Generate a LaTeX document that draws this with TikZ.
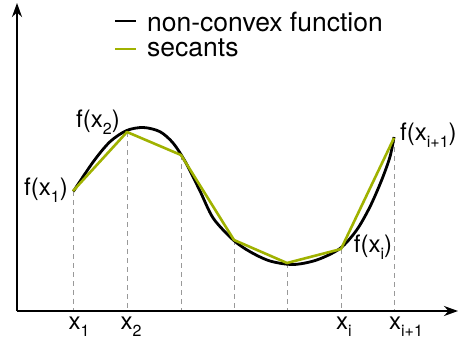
\documentclass[tikz,border=0pt]{standalone}
\usepackage{fontspec}
\setmainfont{TeX Gyre Heros}
\usetikzlibrary{arrows.meta}
\definecolor{secgreen}{RGB}{160,178,0}
\newcommand{\sbx}[1]{\raisebox{-0.28em}{\fontsize{16}{16}\selectfont #1}}
\tikzset{
  axis/.style={line width=2.4pt, -{Stealth[length=14pt,width=10pt]}},
  guide/.style={gray!80, line width=0.9pt, dash pattern=on 5pt off 4pt},
  curve/.style={black, line width=2.8pt},
  secant/.style={secgreen, line width=2.6pt, line join=round},
  lab/.style={font=\fontsize{24}{24}\selectfont, inner sep=0pt},
  leg/.style={font=\fontsize{26.5}{26.5}\selectfont, inner sep=0pt, anchor=west},
}
\begin{document}
\begin{tikzpicture}[x=1pt,y=-1pt]
\useasboundingbox (0,0) rectangle (458,345);
% points
\coordinate (p1) at (73,191);
\coordinate (p2) at (127,132);
\coordinate (p3) at (181,155);
\coordinate (p4) at (234,240);
\coordinate (p5) at (287,263);
\coordinate (p6) at (341,249);
\coordinate (p7) at (394,138);
\coordinate (o) at (17,311);
\coordinate (ytip) at (17,3);
\coordinate (xtip) at (458,311);
% guides
\foreach \i in {1,...,7} {
  \draw[guide] (p\i) -- (p\i |- o);
}
% axes
\draw[axis] (o) -- (ytip);
\draw[axis] (o) -- (xtip);
% curve
\draw[curve] plot[smooth, tension=0.5] coordinates {
  (73.3,191.5) (93.3,161.7) (110,141.7) (126.7,130.5) (143.3,127.5)
  (160,131.7) (173.3,143.3) (186,163) (200,191) (213.3,218.3)
  (233.3,240) (250,251.7) (270,261) (293.3,264.5) (316.7,260)
  (340,248.5) (356.7,230) (370,206.7) (381.7,180) (390,156.7) (394,137)};
% secants
\draw[secant] (p1) -- (p2) -- (p3) -- (p4) -- (p5) -- (p6) -- (p7);
% labels
\node[lab, anchor=east] (l1) at (68,190) {f(x\sbx{1})};
\node[lab] (l2) at (98,122) {f(x\sbx{2})};
\node[lab] (li) at (373,247) {f(x\sbx{i})};
\node[lab, anchor=west] (lj) at (400,135) {f(x\sbx{i+1})};
\node[lab] (x1) at (79,327) {x\sbx{1}};
\node[lab] (x2) at (131,327) {x\sbx{2}};
\node[lab] (xi) at (344,327) {x\sbx{i}};
\node[lab] (xj) at (406,327) {x\sbx{i+1}};
% legend
\coordinate (lg1a) at (115,21);
\coordinate (lg1b) at (136,21);
\coordinate (lg2a) at (115,49);
\coordinate (lg2b) at (136,49);
\draw[black, line width=2.4pt] (lg1a) -- (lg1b);
\draw[secgreen, line width=2.4pt] (lg2a) -- (lg2b);
\node[leg] (t1) at (147,22) {non-convex function};
\node[leg] (t2) at (147,48) {secants};
\end{tikzpicture}
\end{document}
